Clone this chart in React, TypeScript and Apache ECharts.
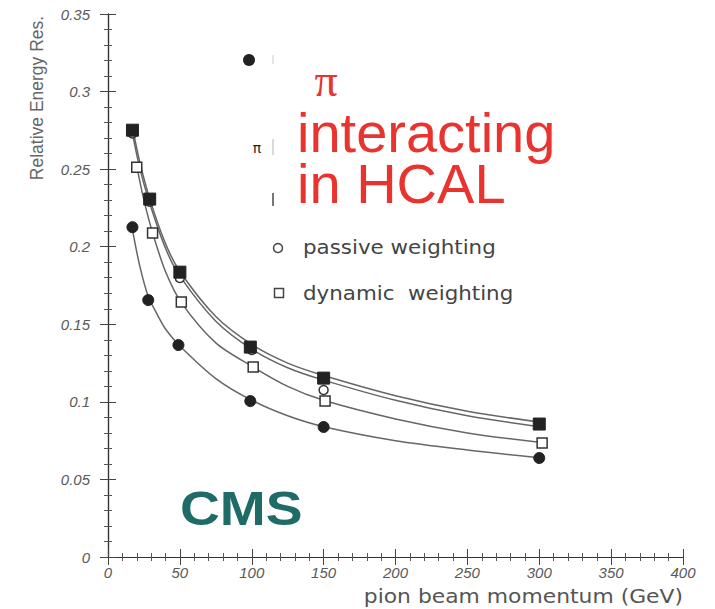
import React, { useEffect, useRef } from "react";
import * as echarts from "echarts";

const filledSqX = [17, 29, 50, 99, 150, 300];
const filledSqY = [0.2751, 0.2307, 0.1836, 0.1353, 0.1153, 0.0857];

const openCircX = [17, 29, 50, 100, 150, 300];
const openCircY = [0.273, 0.229, 0.1798, 0.1335, 0.1076, 0.0855];

const openSqX = [20, 31, 51, 101, 151, 302];
const openSqY = [0.2513, 0.2088, 0.1643, 0.1224, 0.1005, 0.0735];

const filledCircX = [17, 28, 49, 99, 150, 300];
const filledCircY = [0.2126, 0.1656, 0.1366, 0.1005, 0.0838, 0.0638];

// fit curves
const fitTopX = [17, 22, 29, 40, 50, 75, 100, 125, 150, 200, 250, 300];
const fitTopY = [0.277, 0.255, 0.231, 0.202, 0.184, 0.155, 0.137, 0.125, 0.117, 0.104, 0.094, 0.087];

const fitPassiveX = [17, 22, 29, 40, 50, 75, 100, 125, 150, 200, 250, 300];
const fitPassiveY = [0.273, 0.251, 0.228, 0.199, 0.181, 0.152, 0.134, 0.122, 0.114, 0.101, 0.091, 0.084];

const fitDynamicX = [20, 25, 31, 40, 51, 75, 100, 125, 150, 200, 250, 300];
const fitDynamicY = [0.252, 0.23, 0.209, 0.184, 0.164, 0.138, 0.123, 0.11, 0.101, 0.089, 0.08, 0.074];

const fitLowX = [17, 22, 28, 35, 40, 50, 75, 100, 125, 150, 200, 250, 300];
const fitLowY = [0.211, 0.188, 0.168, 0.155, 0.147, 0.136, 0.115, 0.101, 0.091, 0.084, 0.075, 0.069, 0.064];

const legendLabels = ["passive weighting", "dynamic  weighting"];
const xTitle = "pion beam momentum (GeV)";
const yTitle = "Relative Energy Res.";

const pair = (xs: number[], ys: number[]) => xs.map((x, i) => [x, ys[i]]);

export default function App() {
  const ref = useRef<HTMLDivElement>(null);
  useEffect(() => {
    if (!ref.current) return;
    document.body.style.margin = "0";
    const chart = echarts.init(ref.current, null, { renderer: "svg" });
    const labelStyle = {
      fontFamily: "Liberation Sans",
      fontStyle: "italic" as const,
      fontSize: 15,
      color: "#5a5a5a",
    };
    const axisCommon = {
      axisLine: { show: true, lineStyle: { color: "#333", width: 1.2 } },
      axisTick: { show: true, inside: true, length: 8, lineStyle: { color: "#444" } },
      minorTick: { show: true, splitNumber: 5, length: 4, lineStyle: { color: "#555" } },
      splitLine: { show: false },
    };
    const lineStyle = { color: "#666", width: 1.5 };
    const fit = (xs: number[], ys: number[]) => ({
      type: "line",
      data: pair(xs, ys),
      smooth: 0.3,
      showSymbol: false,
      symbol: "none",
      lineStyle,
      z: 1,
      silent: true,
    });
    chart.setOption({
      animation: false,
      backgroundColor: "#fff",
      grid: { left: 108, right: 32, top: 14, bottom: 52 },
      xAxis: [
        {
          type: "value",
          min: 0,
          max: 400,
          interval: 50,
          ...axisCommon,
          axisLabel: { ...labelStyle, margin: 8 },
        },
        {
          type: "value",
          position: "top",
          min: 0,
          max: 400,
          interval: 50,
          ...axisCommon,
          axisLabel: { show: false },
        },
      ],
      yAxis: [
        {
          type: "value",
          min: 0,
          max: 0.35,
          interval: 0.05,
          ...axisCommon,
          axisLabel: { ...labelStyle, margin: 18 },
        },
        {
          type: "value",
          position: "right",
          min: 0,
          max: 0.35,
          interval: 0.05,
          ...axisCommon,
          axisLabel: { show: false },
        },
      ],
      series: [
        fit(fitTopX, fitTopY),
        fit(fitPassiveX, fitPassiveY),
        fit(fitDynamicX, fitDynamicY),
        fit(fitLowX, fitLowY),
        {
          type: "scatter",
          data: pair(openCircX, openCircY),
          symbol: "circle",
          symbolSize: 9,
          itemStyle: { color: "#fff", borderColor: "#333", borderWidth: 1.5, opacity: 1 },
          z: 2,
        },
        {
          type: "scatter",
          data: pair(filledSqX, filledSqY),
          symbol: "rect",
          symbolSize: 12,
          itemStyle: { color: "#222", borderColor: "#222", opacity: 1 },
          z: 3,
        },
        {
          type: "scatter",
          data: pair(openSqX, openSqY),
          symbol: "rect",
          symbolSize: 10,
          itemStyle: { color: "#fff", borderColor: "#333", borderWidth: 1.5, opacity: 1 },
          z: 3,
        },
        {
          type: "scatter",
          data: pair(filledCircX, filledCircY),
          symbol: "circle",
          symbolSize: 11,
          itemStyle: { color: "#222", borderColor: "#222", opacity: 1 },
          z: 3,
        },
      ],
      graphic: [
        {
          type: "text",
          x: 37,
          y: 98,
          rotation: Math.PI / 2,
          style: {
            text: yTitle,
            fontFamily: "Liberation Sans",
            fontSize: 17.5,
            fill: "#666",
            align: "center",
            verticalAlign: "middle",
          },
        },
        {
          type: "text",
          x: 683,
          y: 597,
          scaleX: 1.15,
          style: {
            text: xTitle,
            fontFamily: "DejaVu Sans",
            fontSize: 19,
            fill: "#555",
            align: "right",
            verticalAlign: "middle",
          },
        },
        { type: "circle", shape: { cx: 249, cy: 60, r: 6 }, style: { fill: "#222" } },
        { type: "line", shape: { x1: 273, y1: 55, x2: 273, y2: 64 }, style: { stroke: "#ddd", lineWidth: 1.5 } },
        {
          type: "text",
          x: 257,
          y: 148,
          style: { text: "π", fontFamily: "DejaVu Sans", fontSize: 14, fill: "#222", align: "center", verticalAlign: "middle" },
        },
        { type: "line", shape: { x1: 273, y1: 139, x2: 273, y2: 155 }, style: { stroke: "#ccc", lineWidth: 1.5 } },
        { type: "line", shape: { x1: 273, y1: 193, x2: 273, y2: 206 }, style: { stroke: "#777", lineWidth: 2 } },
        { type: "circle", shape: { cx: 278, cy: 248, r: 4.5 }, style: { fill: "#fff", stroke: "#444", lineWidth: 1.5 } },
        { type: "rect", shape: { x: 274.5, y: 288.5, width: 9, height: 9 }, style: { fill: "#fff", stroke: "#444", lineWidth: 1.5 } },
        {
          type: "text",
          x: 303,
          y: 247,
          scaleX: 1.07,
          style: { text: legendLabels[0], fontFamily: "DejaVu Sans", fontSize: 20, fill: "#444", verticalAlign: "middle" },
        },
        {
          type: "text",
          x: 303,
          y: 293,
          scaleX: 1.07,
          style: { text: legendLabels[1], fontFamily: "DejaVu Sans", fontSize: 20, fill: "#444", verticalAlign: "middle" },
        },
        {
          type: "text",
          x: 326,
          y: 80,
          style: { text: "π", fontFamily: "Liberation Serif", fontSize: 46, fill: "#e8332f", align: "center", verticalAlign: "middle" },
        },
        {
          type: "text",
          x: 297,
          y: 157.5,
          style: {
            text: "interacting\nin HCAL",
            fontFamily: "Liberation Sans",
            fontSize: 56,
            lineHeight: 51,
            fill: "#e8332f",
            verticalAlign: "middle",
          },
        },
        {
          type: "text",
          x: 180,
          y: 508,
          scaleX: 1.15,
          style: { text: "CMS", fontFamily: "Liberation Sans", fontWeight: "bold", fontSize: 48, fill: "#1f6b67", verticalAlign: "middle" },
        },
      ],
    });
    return () => chart.dispose();
  }, []);
  return <div ref={ref} style={{ width: 715, height: 609 }} />;
}
